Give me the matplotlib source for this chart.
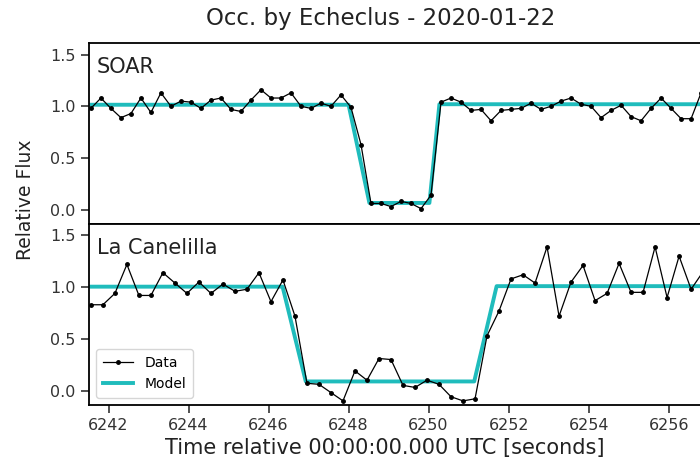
import numpy as np
import matplotlib
matplotlib.use('Agg')
from matplotlib import pyplot as plt

# SOAR light curve, 0.25 s cadence
soar_t0, soar_dt = 6241.56, 0.25
soar_flux = [0.98, 1.08, 0.98, 0.89, 0.93, 1.08, 0.94, 1.13, 1.00, 1.05,
             1.04, 0.98, 1.06, 1.08, 0.97, 0.95, 1.06, 1.16, 1.08, 1.08,
             1.13, 1.00, 0.98, 1.03, 1.00, 1.11, 0.99, 0.63, 0.06, 0.06,
             0.03, 0.08, 0.06, 0.01, 0.14, 1.04, 1.08, 1.04, 0.96, 0.97,
             0.86, 0.96, 0.97, 0.98, 1.03, 0.97, 1.00, 1.05, 1.08, 1.02,
             1.00, 0.89, 0.96, 1.01, 0.90, 0.86, 0.98, 1.08, 0.98, 0.88,
             0.88, 1.13]
soar_model_t = [6241.0, 6248.0, 6248.52, 6250.02, 6250.27, 6258.0]
soar_model_f = [1.015, 1.015, 0.065, 0.065, 1.02, 1.02]

# La Canelilla light curve, 0.30 s cadence
lac_t0, lac_dt = 6241.56, 0.30
lac_flux = [0.83, 0.83, 0.94, 1.22, 0.92, 0.92, 1.14, 1.04, 0.94, 1.05,
            0.94, 1.03, 0.96, 0.98, 1.14, 0.86, 1.07, 0.72, 0.07, 0.06,
            -0.02, -0.10, 0.19, 0.10, 0.31, 0.30, 0.05, 0.03, 0.10, 0.06,
            -0.06, -0.10, -0.08, 0.53, 0.77, 1.08, 1.12, 1.04, 1.39, 0.72,
            1.05, 1.21, 0.87, 0.94, 1.23, 0.95, 0.95, 1.39, 0.90, 1.30,
            0.98, 1.15]
lac_model_t = [6241.0, 6246.35, 6246.93, 6251.14, 6251.70, 6258.0]
lac_model_f = [1.005, 1.005, 0.088, 0.088, 1.01, 1.01]

names = ['SOAR', 'La Canelilla']

soar_t = soar_t0 + soar_dt*np.arange(len(soar_flux))
lac_t = lac_t0 + lac_dt*np.arange(len(lac_flux))

fig, axs = plt.subplots(2, 1, sharex=True, figsize=(7, 4.65), dpi=100)
fig.subplots_adjust(left=0.127, right=1.041, top=0.907, bottom=0.129, hspace=0)

sets = [(soar_t, soar_flux, soar_model_t, soar_model_f),
        (lac_t, lac_flux, lac_model_t, lac_model_f)]
for i in range(2):
    ax = axs[i]
    t, f, mt, mf = sets[i]
    ax.plot(t, f, 'k.-', lw=0.9, ms=5, label='Data', zorder=3)
    ax.plot(mt, mf, color='#1fbcbc', lw=2.8, label='Model', zorder=2)
    ax.set_ylim(-0.14, 1.61)
    ax.set_yticks([0.0, 0.5, 1.0, 1.5])
    ax.text(0.012, 0.925, names[i], transform=ax.transAxes, fontsize=15,
            va='top', ha='left', color='#222222')
    ax.tick_params(labelsize=11.5, length=6, width=1.2, colors='#333333')
    for s in ax.spines.values():
        s.set_linewidth(1.3)

axs[1].set_xlim(6241.51, 6257.5)
axs[1].set_xticks(np.arange(6242, 6257, 2))
axs[1].legend(loc='lower left', fontsize=10, handlelength=2.2, borderpad=0.5)
fig.text(0.549, 0.036, 'Time relative 00:00:00.000 UTC [seconds]', fontsize=15,
         ha='center', va='center', color='#222222')
fig.text(0.036, 0.57, 'Relative Flux', rotation=90, fontsize=13.5, ha='center', va='center', color='#222222')
fig.text(0.544, 0.96, 'Occ. by Echeclus - 2020-01-22', fontsize=16.5, ha='center', va='center', color='#222222')

plt.savefig('out.png', dpi=100)
